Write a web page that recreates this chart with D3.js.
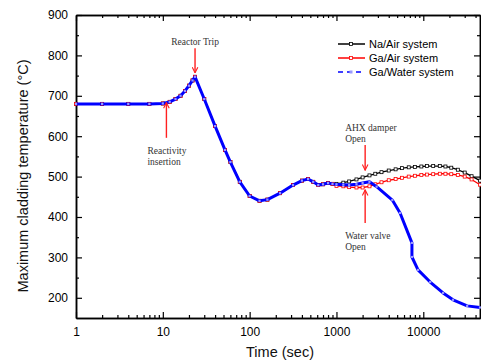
<!DOCTYPE html>
<html>
<head>
<meta charset="utf-8">
<script src="https://cdn.jsdelivr.net/npm/d3@7"></script>
<style>
  body { margin: 0; background: #fff; }
  svg { display: block; font-family: "Liberation Sans", Arial, sans-serif; }
</style>
</head>
<body>
<div id="plot"></div>
<script>
// shared transient (all three systems overlap until ~900 s)
const commonTime = [1, 2, 4, 7, 10, 12, 14, 16, 18, 20, 22, 23.5, 30, 40, 52, 60, 77, 100, 130, 160, 224, 316, 400, 471, 540, 617, 700, 800, 900];
const commonTemp = [680, 680, 680, 680, 681, 685, 692, 700, 712, 725, 738, 747, 692, 625, 566, 536, 487, 452, 440, 443, 459, 479, 490, 494, 487, 479, 481, 484, 482];

const airTime = [1000, 1200, 1400, 1700, 2000, 2400, 2800, 3300, 4000, 4800, 5700, 6800, 8000, 9500, 11000, 13000, 15500, 18000, 21000, 25000, 30000, 36000, 45000];
const naAirTemp = [482, 485, 488, 493, 498, 503, 507, 511, 515, 518, 521, 523, 524, 525, 526, 526, 526, 525, 522, 517, 510, 501, 490];
const gaAirTemp = [477, 476, 474, 473, 473, 476, 481, 486, 491, 494, 497, 500, 502, 504, 505, 506, 507, 507, 506, 504, 500, 493, 480];

const waterTime = [1000, 1200, 1400, 1700, 2000, 2400, 2900, 4400, 5400, 7400, 7400, 8700, 12000, 16900, 22000, 32000, 45000];
const gaWaterTemp = [481, 480, 479, 481, 484, 487, 475, 442, 410, 336, 301, 269, 239, 212, 195, 180, 176];

const seriesNames = ["Na/Air system", "Ga/Air system", "Ga/Water system"];
const seriesColors = ["#000000", "#ff0000", "#0000ff"];

const xTicks = [1, 10, 100, 1000, 10000];
const yTicks = [200, 300, 400, 500, 600, 700, 800, 900];

// annotations: [label lines, time, arrow start temp, arrow end temp]
const notes = [
  { lines: ["Reactor Trip"], t: 23.5, from: 818, to: 757, anchor: "middle", dx: 0 },
  { lines: ["Reactivity", "insertion"], t: 11, from: 596, to: 683, anchor: "start", dx: -19 },
  { lines: ["AHX damper", "Open"], t: 2140, from: 578, to: 516, anchor: "start", dx: -20 },
  { lines: ["Water valve", "Open"], t: 2140, from: 385, to: 467, anchor: "start", dx: -20 }
];

const W = 481, H = 360;
const margin = { top: 15, right: 1, bottom: 42, left: 76 };
const width = W - margin.left - margin.right;
const height = H - margin.top - margin.bottom;

const svg = d3.select("#plot").append("svg").attr("width", W).attr("height", H);

svg.append("defs").append("marker")
  .attr("id", "arr")
  .attr("viewBox", "0 0 10 10")
  .attr("refX", 9).attr("refY", 5)
  .attr("markerWidth", 7).attr("markerHeight", 7)
  .attr("markerUnits", "userSpaceOnUse")
  .attr("orient", "auto")
  .append("path")
  .attr("d", "M1,1 L9,5 L1,9")
  .attr("fill", "none").attr("stroke", "#ff2020").attr("stroke-width", 1.6);

const g = svg.append("g").attr("transform", "translate(" + margin.left + "," + margin.top + ")");

const x = d3.scaleLog().domain([1, 45000]).range([0, width]);
const y = d3.scaleLinear().domain([150, 900]).range([height, 0]);

const minorX = [];
for (let d = 1; d <= 10000; d *= 10) {
  for (let k = 2; k <= 9; k++) if (d * k <= 45000) minorX.push(d * k);
}
const minorY = [250, 350, 450, 550, 650, 750, 850];

// axes, ticks pointing inward
g.append("g").attr("transform", "translate(0," + height + ")")
  .call(d3.axisBottom(x).tickValues(xTicks).tickFormat(d3.format("d")).tickSizeInner(-6).tickSizeOuter(0).tickPadding(9))
  .call(a => a.selectAll("text").attr("font-size", 12).attr("fill", "#000").attr("font-family", null));
g.append("g").attr("transform", "translate(0," + height + ")")
  .call(d3.axisBottom(x).tickValues(minorX).tickFormat("").tickSizeInner(-3).tickSizeOuter(0));
g.append("g").call(d3.axisTop(x).tickValues(xTicks).tickFormat("").tickSizeInner(-6).tickSizeOuter(0));
g.append("g").call(d3.axisTop(x).tickValues(minorX).tickFormat("").tickSizeInner(-3).tickSizeOuter(0));

g.append("g")
  .call(d3.axisLeft(y).tickValues(yTicks).tickSizeInner(-6).tickSizeOuter(0).tickPadding(8))
  .call(a => a.selectAll("text").attr("font-size", 12).attr("fill", "#000").attr("font-family", null));
g.append("g").call(d3.axisLeft(y).tickValues(minorY).tickFormat("").tickSizeInner(-3).tickSizeOuter(0));
g.append("g").attr("transform", "translate(" + width + ",0)")
  .call(d3.axisRight(y).tickValues(yTicks).tickFormat("").tickSizeInner(-6).tickSizeOuter(0));
g.append("g").attr("transform", "translate(" + width + ",0)")
  .call(d3.axisRight(y).tickValues(minorY).tickFormat("").tickSizeInner(-3).tickSizeOuter(0));

g.selectAll(".domain").attr("stroke", "#000").attr("stroke-width", 1.5);
g.selectAll(".tick line").attr("stroke", "#000").attr("stroke-width", 1.2);

// series
const line = d3.line().x(d => x(d[0])).y(d => y(d[1]));
const zip = (ts, vs) => ts.map((t, i) => [t, vs[i]]);
const common = zip(commonTime, commonTemp);
const series = [
  common.concat(zip(airTime, naAirTemp)),
  common.concat(zip(airTime, gaAirTemp)),
  common.concat(zip(waterTime, gaWaterTemp))
];

series.forEach((pts, i) => {
  const blue = i === 2;
  g.append("path").datum(pts)
    .attr("fill", "none")
    .attr("stroke", seriesColors[i])
    .attr("stroke-width", blue ? 3 : 1.3)
    .attr("stroke-linejoin", "round")
    .attr("d", line);
  const s = blue ? 2.2 : 3;
  g.append("g").selectAll("rect").data(pts).join("rect")
    .attr("x", d => x(d[0]) - s / 2)
    .attr("y", d => y(d[1]) - s / 2)
    .attr("width", s).attr("height", s)
    .attr("fill", blue ? "#9a9aff" : "#fff")
    .attr("stroke", blue ? "none" : seriesColors[i])
    .attr("stroke-width", 0.8);
});

// annotations
notes.forEach(n => {
  const ax = x(n.t);
  g.append("line")
    .attr("x1", ax).attr("x2", ax)
    .attr("y1", y(n.from)).attr("y2", y(n.to))
    .attr("stroke", "#ff2020").attr("stroke-width", 1.4)
    .attr("marker-end", "url(#arr)");
  const up = n.from > n.to; // arrow points down, label above
  const t = g.append("text")
    .attr("font-family", "'Liberation Serif', 'Times New Roman', serif")
    .attr("font-size", 9.5)
    .attr("fill", "#333")
    .attr("text-anchor", n.anchor);
  n.lines.forEach((l, k) => {
    const base = up ? y(n.from) - 3 - (n.lines.length - 1 - k) * 11 : y(n.from) + 16 + k * 11;
    t.append("tspan").attr("x", ax + n.dx).attr("y", base).text(l);
  });
});

// legend
const leg = svg.append("g").attr("transform", "translate(338,44)");
seriesNames.forEach((name, i) => {
  const row = leg.append("g").attr("transform", "translate(0," + i * 14 + ")");
  row.append("line").attr("x1", 0).attr("x2", 27).attr("y1", 0).attr("y2", 0)
    .attr("stroke", seriesColors[i]).attr("stroke-width", 1.5)
    .attr("stroke-dasharray", i === 2 ? "5,4" : null);
  row.append("rect").attr("x", 11.5).attr("y", -1.5).attr("width", 3).attr("height", 3)
    .attr("fill", i === 2 ? "#9a9aff" : "#fff")
    .attr("stroke", i === 2 ? "none" : seriesColors[i]).attr("stroke-width", 0.8);
  row.append("text").attr("x", 31).attr("y", 4).attr("font-size", 11).attr("fill", "#000").text(name);
});

// axis titles
svg.append("text")
  .attr("x", 280).attr("y", 357)
  .attr("text-anchor", "middle").attr("font-size", 14.5).attr("fill", "#111")
  .text("Time (sec)");
svg.append("text")
  .attr("transform", "translate(28,176) rotate(-90)")
  .attr("text-anchor", "middle").attr("font-size", 14.5).attr("fill", "#111")
  .text("Maximum cladding temperature (°C)");
</script>
</body>
</html>
